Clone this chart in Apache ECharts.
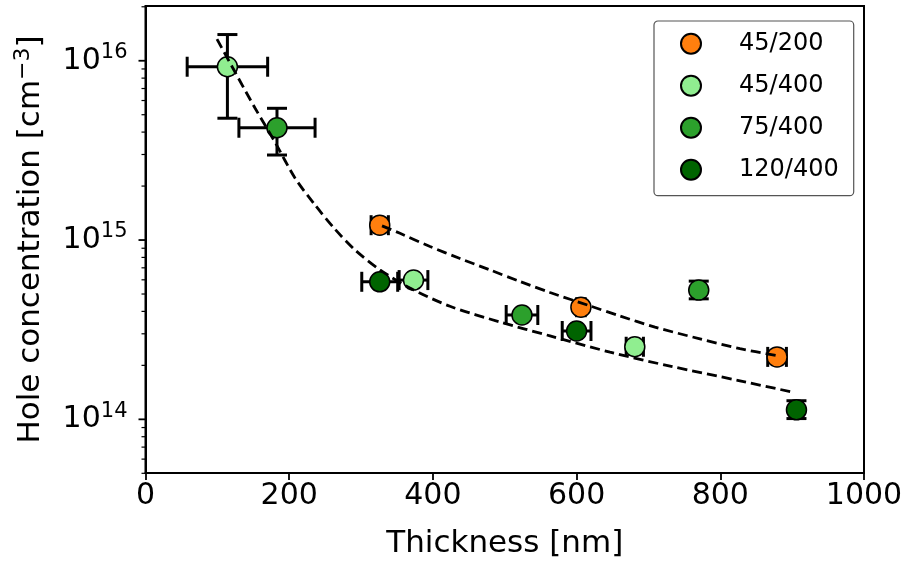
<!DOCTYPE html>
<html><head><meta charset="utf-8">
<script src="https://cdn.jsdelivr.net/npm/echarts@6/dist/echarts.min.js"></script>
<style>html,body{margin:0;padding:0;background:#fff}#c{width:909px;height:564px}</style>
</head><body><div id="c"></div>
<script>
const FONT = 'DejaVu Sans';
const groupNames = ['45/200', '45/400', '75/400', '120/400'];
const groupColors = ['#ff7f0e', '#90ee90', '#2ca02c', '#006400'];

// 45/200
const thick_45_200 = [326, 606, 879];
const conc_45_200 = [1.21e15, 4.22e14, 2.23e14];
const xErr_45_200 = [12, 6, 13];
const yLow_45_200 = [1.21e15, 4.22e14, 2.23e14];
const yHigh_45_200 = [1.21e15, 4.22e14, 2.23e14];
// 45/400
const thick_45_400 = [114, 373, 681];
const conc_45_400 = [9.26e15, 5.98e14, 2.54e14];
const xErr_45_400 = [56, 20, 12];
const yLow_45_400 = [4.78e15, 5.98e14, 2.54e14];
const yHigh_45_400 = [1.40e16, 5.98e14, 2.54e14];
// 75/400
const thick_75_400 = [183, 524, 770];
const conc_75_400 = [4.23e15, 3.82e14, 5.26e14];
const xErr_75_400 = [53, 22, 6];
const yLow_75_400 = [2.98e15, 3.82e14, 4.70e14];
const yHigh_75_400 = [5.43e15, 3.82e14, 5.90e14];
// 120/400
const thick_120_400 = [326, 600, 906];
const conc_120_400 = [5.85e14, 3.11e14, 1.13e14];
const xErr_120_400 = [25, 20, 4];
const yLow_120_400 = [5.85e14, 3.11e14, 1.01e14];
const yHigh_120_400 = [5.85e14, 3.11e14, 1.27e14];

// dashed fit curves
const fitAllX = [99.5, 124.6, 152.4, 180.2, 208.0, 235.9, 263.7, 291.6, 326.4, 368.1, 423.8, 493.4, 563.0, 646.5, 730.0, 827.4, 899.8];
const fitAllY = [1.32e16, 8.65e15, 5.45e15, 3.52e15, 2.22e15, 1.57e15, 1.15e15, 8.81e14, 6.82e14, 5.40e14, 4.27e14, 3.49e14, 2.92e14, 2.37e14, 1.98e14, 1.64e14, 1.42e14];
const fit200X = [329.2, 354.2, 396.0, 437.7, 479.5, 521.2, 563.0, 618.7, 660.4, 709.1, 771.7, 827.4, 877.5];
const fit200Y = [1.20e15, 1.09e15, 9.20e14, 7.89e14, 6.81e14, 5.87e14, 5.10e14, 4.29e14, 3.77e14, 3.27e14, 2.81e14, 2.48e14, 2.27e14];

const xTicks = [0, 200, 400, 600, 800, 1000];
const yMajorTicks = [1e14, 1e15, 1e16];
const yMinorTicks = [5e13, 6e13, 7e13, 8e13, 9e13,
  2e14, 3e14, 4e14, 5e14, 6e14, 7e14, 8e14, 9e14,
  2e15, 3e15, 4e15, 5e15, 6e15, 7e15, 8e15, 9e15, 2e16];

const groups = [
  [thick_45_200, conc_45_200, xErr_45_200, yLow_45_200, yHigh_45_200],
  [thick_45_400, conc_45_400, xErr_45_400, yLow_45_400, yHigh_45_400],
  [thick_75_400, conc_75_400, xErr_75_400, yLow_75_400, yHigh_75_400],
  [thick_120_400, conc_120_400, xErr_120_400, yLow_120_400, yHigh_120_400]
];

function ebRender(params, api) {
  const x = api.value(0), y = api.value(1), xe = api.value(2), yl = api.value(3), yh = api.value(4);
  const st = {stroke: '#000', lineWidth: 3};
  const cap = 10;
  const ch = [];
  if (xe > 0) {
    const l = api.coord([x - xe, y]), r = api.coord([x + xe, y]);
    ch.push({type: 'line', shape: {x1: l[0], y1: l[1], x2: r[0], y2: r[1]}, style: st});
    ch.push({type: 'line', shape: {x1: l[0], y1: l[1] - cap, x2: l[0], y2: l[1] + cap}, style: st});
    ch.push({type: 'line', shape: {x1: r[0], y1: r[1] - cap, x2: r[0], y2: r[1] + cap}, style: st});
  }
  if (yh > yl) {
    const b = api.coord([x, yl]), t = api.coord([x, yh]);
    ch.push({type: 'line', shape: {x1: b[0], y1: b[1], x2: t[0], y2: t[1]}, style: st});
    ch.push({type: 'line', shape: {x1: b[0] - cap, y1: b[1], x2: b[0] + cap, y2: b[1]}, style: st});
    ch.push({type: 'line', shape: {x1: t[0] - cap, y1: t[1], x2: t[0] + cap, y2: t[1]}, style: st});
  }
  return {type: 'group', children: ch};
}

const series = [];
groups.forEach((g, gi) => {
  const [xs, ys, xe, yl, yh] = g;
  series.push({
    type: 'custom', name: 'eb' + gi, renderItem: ebRender, z: 2, silent: true, clip: false,
    data: xs.map((x, i) => [x, ys[i], xe[i], yl[i], yh[i]])
  });
});
groups.forEach((g, gi) => {
  const [xs, ys] = g;
  series.push({
    type: 'scatter', name: groupNames[gi], symbol: 'circle', symbolSize: 20, z: 3,
    itemStyle: {color: groupColors[gi], borderColor: '#000', borderWidth: 1.5, opacity: 1},
    data: xs.map((x, i) => [x, ys[i]])
  });
});
const dash = {color: '#000', width: 2.8, type: [10, 5]};
series.push({type: 'line', name: 'fitAll', data: fitAllX.map((x, i) => [x, fitAllY[i]]),
  symbol: 'none', smooth: 0.3, lineStyle: dash, z: 4, silent: true});
series.push({type: 'line', name: 'fit200', data: fit200X.map((x, i) => [x, fit200Y[i]]),
  symbol: 'none', smooth: 0.3, lineStyle: dash, z: 4, silent: true});
// y-axis ticks (major + minor) drawn on the log scale
series.push({
  type: 'custom', name: 'yticks', silent: true, clip: false, z: 6,
  data: yMajorTicks.map(v => [0, v, 7]).concat(yMinorTicks.map(v => [0, v, 4])),
  renderItem: (params, api) => {
    const p = api.coord([0, api.value(1)]);
    const len = api.value(2);
    return {type: 'line', shape: {x1: p[0] - len, y1: p[1], x2: p[0], y2: p[1]},
      style: {stroke: '#000', lineWidth: len > 5 ? 1.8 : 1.2}};
  }
});

const chart = echarts.init(document.getElementById('c'), null, {renderer: 'canvas'});
chart.setOption({
  animation: false,
  backgroundColor: '#fff',
  textStyle: {fontFamily: FONT},
  grid: {left: 145.5, right: 45, top: 6, bottom: 91, show: true, borderColor: '#000', borderWidth: 2},
  legend: {
    data: groupNames.map(n => ({name: n, icon: 'circle'})),
    orient: 'vertical', left: 654, top: 21,
    padding: [10.7, 15, 14, 26],
    itemWidth: 20, itemHeight: 20, itemGap: 18,
    backgroundColor: '#fff', borderColor: '#555', borderWidth: 1.2, borderRadius: 4,
    textStyle: {fontSize: 24, color: '#000', fontFamily: FONT, padding: [0, 0, 0, 33], lineHeight: 20},
    selectedMode: false
  },
  xAxis: {
    type: 'value', min: xTicks[0], max: xTicks[xTicks.length - 1], interval: 200,
    axisLine: {show: true, lineStyle: {color: '#000', width: 2}},
    axisTick: {show: true, length: 7, lineStyle: {color: '#000', width: 1.8}},
    splitLine: {show: false},
    axisLabel: {fontSize: 30, color: '#000', margin: 8, fontFamily: FONT, formatter: v => String(v)},
    name: 'Thickness [nm]', nameLocation: 'middle', nameGap: 55,
    nameTextStyle: {fontSize: 31, color: '#000', fontFamily: FONT}
  },
  yAxis: {
    type: 'log', logBase: 10, min: 5.02e13, max: 2.02e16,
    axisLine: {show: true, lineStyle: {color: '#000', width: 2}},
    axisTick: {show: false}, minorTick: {show: false},
    splitLine: {show: false}, minorSplitLine: {show: false},
    axisLabel: {
      showMinLabel: false, showMaxLabel: false, margin: 18, color: '#000', fontFamily: FONT,
      formatter: v => {
        const e = Math.round(Math.log10(v));
        if (Math.abs(v / Math.pow(10, e) - 1) > 1e-6) return '';
        return '{b|10}{s|' + e + '}';
      },
      rich: {
        b: {fontSize: 30, fontFamily: FONT, color: '#000'},
        s: {fontSize: 21, fontFamily: FONT, color: '#000', padding: [0, 0, 16, 0]}
      }
    },
    name: '{a|Hole concentration [cm}{s|−3}{a|]}', nameLocation: 'middle', nameGap: 96, nameRotate: 90,
    nameTextStyle: {
      color: '#000', fontFamily: FONT,
      rich: {
        a: {fontSize: 31, fontFamily: FONT, color: '#000'},
        s: {fontSize: 22, fontFamily: FONT, color: '#000', padding: [0, 0, 15, 0]}
      }
    }
  },
  series: series
});
</script>
</body></html>
